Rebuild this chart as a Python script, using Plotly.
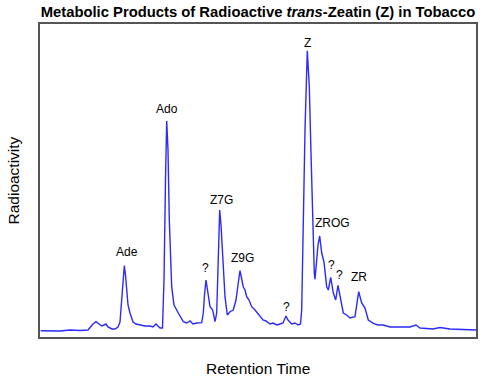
import plotly.graph_objects as go

# Retention time (arbitrary units) and radioactivity (arbitrary units)
retention_time = [0.7, 10, 20, 30, 40, 48, 51, 53, 56, 59, 61.7, 64, 66, 68, 72, 75, 78, 80, 82, 84.3,
                  85.5, 86.7, 88, 90, 93, 96, 100, 105, 110, 113, 116, 118, 120, 122.5, 124, 125.5,
                  126.7, 128, 129.3, 131.7, 134, 138.3, 143.3, 146.7, 150, 153, 157, 161.7, 163.3,
                  164.5, 166, 167.5, 170, 172.7, 175, 176.7, 178, 179.7, 181, 182.7, 185, 187.3, 190,
                  193.3, 196, 198, 200, 201.5, 203.3, 205, 206.7, 209, 211.7, 215, 220, 223, 226,
                  230, 233, 237, 240, 243, 246, 248, 251.7, 255, 258, 260.5, 261.7, 263.3, 265,
                  267.3, 268.5, 269.3, 271, 272.7, 274.3, 275, 276.7, 278, 279.7, 281.7, 284, 286.7,
                  288.3, 290.7, 293.3, 295.7, 298, 300.7, 303.3, 306.7, 310, 315, 317, 318.7, 321.7,
                  325, 328.3, 333.3, 338, 343.3, 350, 360, 370, 376, 380, 393, 400, 410, 420, 436]
radioactivity = [6.3, 6.5, 6, 7, 6.5, 7, 11, 13, 15.3, 13, 11, 12, 13, 10, 8, 8, 10, 15, 42, 71.3,
                 62, 44, 32, 24, 15, 13, 12, 11, 11, 10, 13, 11, 9, 9, 57, 157,
                 216, 187, 117, 50.3, 32, 24, 15.3, 14, 16, 13, 14, 14.3, 24,
                 42, 57, 47, 30.3, 27, 15.3, 24, 77, 127, 112, 84, 40.3, 22, 25.3,
                 27, 37, 52, 66.3, 59, 50, 47, 40.3, 37, 30.3, 27, 20, 17, 16,
                 13, 14, 12, 13, 14, 21, 17, 13, 14, 12, 13, 27, 117, 207,
                 286.3, 267, 250.3, 184, 117, 64, 57.7, 77, 92, 101, 84, 75, 50.3,
                 47, 59.7, 44, 37, 51.7, 37, 24, 22, 19, 20.3, 32, 45.3, 34,
                 29, 17, 13.7, 12, 12, 10, 10.3, 10, 12, 9, 8, 9.5, 8, 7.5, 7]

peak_labels = ["Ade", "Ado", "?", "Z7G", "Z9G", "?", "Z", "ZROG", "?", "?", "ZR"]
label_x = [86.7, 126.7, 165.7, 181.7, 202, 246.7, 267.7, 292.7, 291.3, 299, 319.3]
label_y = [84.7, 228, 69, 137, 79.3, 30.3, 294.3, 113.7, 72, 62, 59.7]

FONT = "Liberation Sans, Arial, sans-serif"

fig = go.Figure()
fig.add_trace(go.Scatter(x=retention_time, y=radioactivity, mode="lines",
                         line=dict(color="#2a2aff", width=1.4), hoverinfo="skip"))

for t, x, y in zip(peak_labels, label_x, label_y):
    fig.add_annotation(x=x, y=y, text=t, showarrow=False, xanchor="center", yanchor="middle",
                       font=dict(family=FONT, size=12, color="#000"))

fig.add_annotation(xref="paper", yref="paper", x=0.5, y=0, yshift=-31, text="Retention Time",
                   showarrow=False, xanchor="center", yanchor="middle",
                   font=dict(family=FONT, size=15.5, color="#000"))
fig.add_annotation(xref="paper", yref="paper", x=0, y=0.5, xshift=-27, text="Radioactivity",
                   textangle=-90, showarrow=False, xanchor="center", yanchor="middle",
                   font=dict(family=FONT, size=15.5, color="#000"))

axis_common = dict(showgrid=False, zeroline=False, showticklabels=False, ticks="",
                   showline=True, mirror=True, linecolor="#555555", linewidth=2)
fig.update_xaxes(range=[0, 436], **axis_common)
fig.update_yaxes(range=[0, 313], **axis_common)

fig.update_layout(
    width=500, height=378, autosize=False,
    margin=dict(l=40, r=24, t=24, b=41),
    paper_bgcolor="white", plot_bgcolor="white",
    showlegend=False,
    title=dict(text="Metabolic Products of Radioactive <i>trans</i>-Zeatin (Z) in Tobacco",
               x=0.5, xanchor="center", y=1 - 12 / 378, yanchor="middle", xref="paper",
               font=dict(family=FONT, size=14.8, color="#000", weight="bold")),
)

fig.write_html("out.html", config={"displayModeBar": False},
               post_script="document.body.style.margin='0';document.body.style.padding='0';")
